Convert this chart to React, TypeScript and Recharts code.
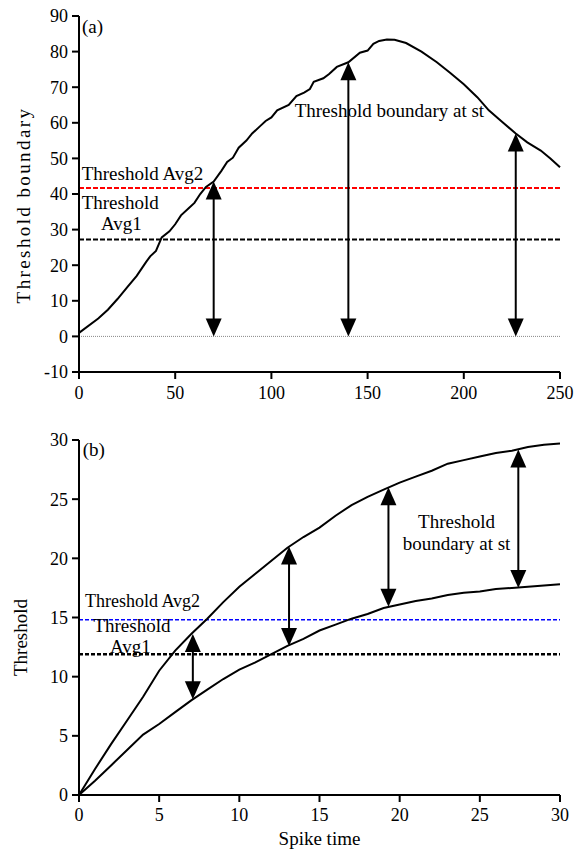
import React from 'react';
import { LineChart, Line, XAxis, YAxis, ReferenceLine, ReferenceDot } from 'recharts';

// ---------- Panel (a) data ----------
const topX = [0,10,15,20,25,30,35,37,40,43,47,50,53,57,60,63,66,70,74,77,80,83,87,90,94,97,100,103,109,113,117,120,122,127,130,134,140,146,150,153,156,160,164,170,178,186,193,200,207,213,220,227,233,240,245,250];
const topY = [1,5,7.5,10.5,13.8,17,21,22.5,24,27.8,29.5,31.5,34,36,37.5,40,42,43.5,46.5,49,50.2,53,55,57,59,60.5,61.5,63.5,65,67.5,68.5,69.5,71.5,72.5,73.7,75.7,77,79.7,80.3,82.2,83,83.4,83.3,82.4,80,77,74,70.8,67.2,63.5,60.2,57,54.5,52.2,50,47.5];
const topXTicks = [0,50,100,150,200,250];
const topYTicks = [-10,0,10,20,30,40,50,60,70,80,90];
const topAvg2 = 41.7;
const topAvg1 = 27.2;
const topArrowX = [70,140,227];
const topArrowTop = [43.5,77,57];
const topArrowBottom = [0,0,0];

// ---------- Panel (b) data ----------
const botX = [0,1,2,3,4,5,6,7,8,9,10,11,12,13,14,15,16,17,18,19,20,21,22,23,24,25,26,27,28,29,30];
const botUpper = [0,2.2,4.3,6.3,8.3,10.5,12.2,13.6,14.9,16.3,17.6,18.7,19.8,20.9,21.8,22.6,23.6,24.5,25.2,25.8,26.4,26.9,27.4,28,28.3,28.6,28.9,29.1,29.4,29.6,29.7];
const botLower = [0,1.2,2.5,3.8,5.1,6.0,7.0,8.0,8.9,9.8,10.6,11.2,11.9,12.6,13.2,13.9,14.4,14.9,15.3,15.8,16.1,16.4,16.6,16.9,17.1,17.2,17.4,17.5,17.6,17.7,17.8];
const botXTicks = [0,5,10,15,20,25,30];
const botYTicks = [0,5,10,15,20,25,30];
const botAvg2 = 14.8;
const botAvg1 = 11.9;
const botArrowX = [7.1,13.1,19.3,27.4];
const botArrowTop = [13.6,21,26,29.2];
const botArrowBottom = [8.1,12.6,15.9,17.5];

const FONT = '"Liberation Serif", "Times New Roman", serif';

const topData = topX.map((x, i) => ({ x, y: topY[i] }));
const botData = botX.map((x, i) => ({ x, upper: botUpper[i], lower: botLower[i] }));

const ArrowShape = (props: any) => {
  const { x1, y1, x2, y2 } = props;
  const x = x1;
  const top = Math.min(y1, y2);
  const bot = Math.max(y1, y2);
  const L = 18;
  const W = 8;
  return (
    <g>
      <line x1={x} y1={top + L - 2} x2={x2} y2={bot - L + 2} stroke="#000" strokeWidth={2} />
      <polygon points={`${x},${top} ${x - W},${top + L} ${x + W},${top + L}`} fill="#000" />
      <polygon points={`${x},${bot} ${x - W},${bot - L} ${x + W},${bot - L}`} fill="#000" />
    </g>
  );
};

const textShape = (label: string, size: number, anchor: string = 'start') => (p: any) => (
  <text x={p.cx} y={p.cy} fontSize={size} fontFamily={FONT} fill="#000" textAnchor={anchor}>
    {label}
  </text>
);

const axisLine = { stroke: '#000', strokeWidth: 2 };
const tickLine = { stroke: '#000', strokeWidth: 2 };
const tickStyle = { fill: '#000', fontSize: 18, fontFamily: FONT };

export default function App() {
  return (
    <div style={{ position: 'absolute', left: 0, top: 0, width: 583, height: 853, background: '#fff', fontFamily: FONT }}>
      <div style={{ position: 'absolute', left: 0, top: 0 }}>
        <LineChart width={583} height={420} data={topData} margin={{ top: 16, right: 23, bottom: 18, left: 19 }} style={{ fontFamily: FONT }}>
          <XAxis
            dataKey="x"
            type="number"
            domain={[0, 250]}
            ticks={topXTicks}
            axisLine={axisLine}
            tickLine={tickLine}
            tick={tickStyle}
            tickSize={7}
            tickMargin={7}
            height={30}
          />
          <YAxis
            type="number"
            domain={[-10, 90]}
            ticks={topYTicks}
            axisLine={axisLine}
            tickLine={tickLine}
            tick={tickStyle}
            tickSize={7}
            tickMargin={4}
            width={60}
            label={{
              content: (lp: any) => {
                const vb = lp.viewBox || { x: 19, y: 16, width: 60, height: 356 };
                const cx = vb.x + 4;
                const cy = vb.y + vb.height / 2 + 11;
                return (
                  <text
                    x={cx}
                    y={cy}
                    transform={`rotate(-90, ${cx}, ${cy})`}
                    textAnchor="middle"
                    dominantBaseline="central"
                    fontSize={19}
                    fontFamily={FONT}
                    letterSpacing={2.4}
                    fill="#000"
                  >
                    Threshold boundary
                  </text>
                );
              },
            }}
          />
          <ReferenceLine y={0} stroke="#888" strokeWidth={1} strokeDasharray="1 1" />
          <ReferenceLine y={topAvg2} stroke="#ff0000" strokeWidth={2} strokeDasharray="5 2" />
          <ReferenceLine y={topAvg1} stroke="#000" strokeWidth={2} strokeDasharray="5 2" />
          <Line type="linear" dataKey="y" stroke="#000" strokeWidth={2} dot={false} isAnimationActive={false} />
          {topArrowX.map((x, i) => (
            <ReferenceLine
              key={'ta' + i}
              segment={[{ x, y: topArrowBottom[i] }, { x, y: topArrowTop[i] }]}
              shape={ArrowShape}
            />
          ))}
          <ReferenceDot x={1.5} y={85.2} r={0} shape={textShape('(a)', 19)} />
          <ReferenceDot x={1.4} y={43.8} r={0} shape={textShape('Threshold Avg2', 19)} />
          <ReferenceDot x={1.4} y={35.9} r={0} shape={textShape('Threshold', 19)} />
          <ReferenceDot x={11.4} y={30} r={0} shape={textShape('Avg1', 19)} />
          <ReferenceDot x={112.1} y={61.6} r={0} shape={textShape('Threshold boundary at st', 19)} />
        </LineChart>
      </div>
      <div style={{ position: 'absolute', left: 0, top: 420 }}>
        <LineChart width={583} height={433} data={botData} margin={{ top: 20, right: 23, bottom: 28, left: 19 }} style={{ fontFamily: FONT }}>
          <XAxis
            dataKey="x"
            type="number"
            domain={[0, 30]}
            ticks={botXTicks}
            axisLine={axisLine}
            tickLine={tickLine}
            tick={tickStyle}
            tickSize={7}
            tickMargin={6}
            height={30}
            label={{
              content: (lp: any) => {
                const vb = lp.viewBox || { x: 79, y: 375, width: 481, height: 30 };
                return (
                  <text
                    x={vb.x + vb.width / 2}
                    y={vb.y + 50}
                    textAnchor="middle"
                    fontSize={19}
                    fontFamily={FONT}
                    fill="#000"
                  >
                    Spike time
                  </text>
                );
              },
            }}
          />
          <YAxis
            type="number"
            domain={[0, 30]}
            ticks={botYTicks}
            axisLine={axisLine}
            tickLine={tickLine}
            tick={tickStyle}
            tickSize={7}
            tickMargin={4}
            width={60}
            label={{
              content: (lp: any) => {
                const vb = lp.viewBox || { x: 19, y: 20, width: 60, height: 355 };
                const cx = vb.x + 1;
                const cy = vb.y + vb.height / 2 + 20;
                return (
                  <text
                    x={cx}
                    y={cy}
                    transform={`rotate(-90, ${cx}, ${cy})`}
                    textAnchor="middle"
                    dominantBaseline="central"
                    fontSize={19}
                    fontFamily={FONT}
                    fill="#000"
                  >
                    Threshold
                  </text>
                );
              },
            }}
          />
          <ReferenceLine y={botAvg2} stroke="#0000ff" strokeWidth={1.5} strokeDasharray="4 2" />
          <ReferenceLine y={botAvg1} stroke="#000" strokeWidth={2.5} strokeDasharray="4 2" />
          <Line type="linear" dataKey="upper" stroke="#000" strokeWidth={2} dot={false} isAnimationActive={false} />
          <Line type="linear" dataKey="lower" stroke="#000" strokeWidth={2} dot={false} isAnimationActive={false} />
          {botArrowX.map((x, i) => (
            <ReferenceLine
              key={'ba' + i}
              segment={[{ x, y: botArrowBottom[i] }, { x, y: botArrowTop[i] }]}
              shape={ArrowShape}
            />
          ))}
          <ReferenceDot x={0.23} y={28.65} r={0} shape={textShape('(b)', 19)} />
          <ReferenceDot x={0.37} y={15.9} r={0} shape={textShape('Threshold Avg2', 18)} />
          <ReferenceDot x={0.9} y={13.8} r={0} shape={textShape('Threshold', 19)} />
          <ReferenceDot x={1.93} y={12.0} r={0} shape={textShape('Avg1', 19)} />
          <ReferenceDot x={23.55} y={22.57} r={0} shape={textShape('Threshold', 19, 'middle')} />
          <ReferenceDot x={23.55} y={20.71} r={0} shape={textShape('boundary at st', 19, 'middle')} />
        </LineChart>
      </div>
    </div>
  );
}
